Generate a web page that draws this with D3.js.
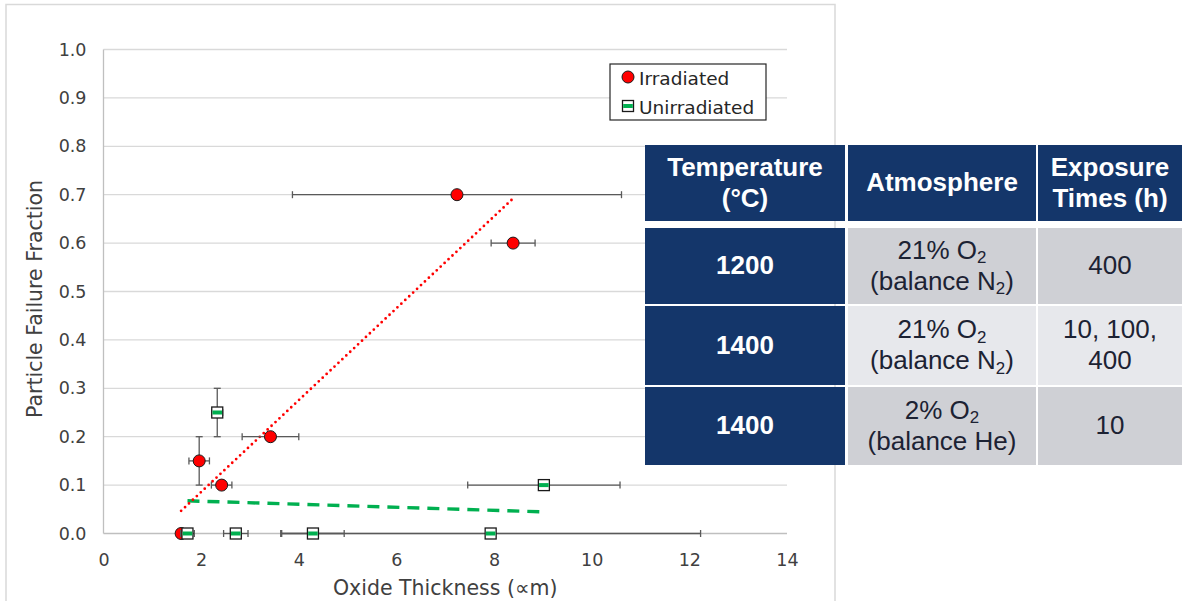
<!DOCTYPE html>
<html>
<head>
<meta charset="utf-8">
<script src="https://cdn.jsdelivr.net/npm/d3@7"></script>
<style>
  body { margin: 0; background: #fff; }
  svg { display: block; }
</style>
</head>
<body>
<svg id="chart" width="1184" height="601"></svg>
<script>
// irradiated particles
var irrX    = [1.59, 1.96, 2.42, 3.42, 7.24, 8.39];
var irrY    = [0.00, 0.15, 0.10, 0.20, 0.70, 0.60];
var irrXErr = [0.00, 0.21, 0.21, 0.58, 3.37, 0.45];
var irrYErr = [0.00, 0.05, 0.00, 0.00, 0.00, 0.00];

// unirradiated particles
var unX    = [1.72, 2.33, 2.71, 4.29, 7.93, 9.02];
var unY    = [0.00, 0.25, 0.00, 0.00, 0.00, 0.10];
var unXErr = [0.14, 0.11, 0.25, 0.64, 4.30, 1.56];
var unYErr = [0.00, 0.05, 0.00, 0.00, 0.00, 0.00];

var xTicks = [0, 2, 4, 6, 8, 10, 12, 14];
var yTicks = [0, 0.1, 0.2, 0.3, 0.4, 0.5, 0.6, 0.7, 0.8, 0.9, 1.0];

var seriesNames = ["Irradiated", "Unirradiated"];

// table
var tableHeaders = [["Temperature", "(°C)"], ["Atmosphere"], ["Exposure", "Times (h)"]];
var tempValues   = ["1200", "1400", "1400"];
var atmValues    = [["21% O{2}", "(balance N{2})"], ["21% O{2}", "(balance N{2})"], ["2% O{2}", "(balance He)"]];
var timeValues   = [["400"], ["10, 100,", "400"], ["10"]];

var chartFont = "'DejaVu Sans', sans-serif";
var tableFont = "'Liberation Sans', Arial, sans-serif";

const svg = d3.select('#chart');

// outer chart frame
svg.append('rect')
   .attr('x', 6).attr('y', 4.5)
   .attr('width', 829).attr('height', 620)
   .attr('fill', 'none')
   .attr('stroke', '#d9d9d9')
   .attr('stroke-width', 1.5);

const x = d3.scaleLinear().domain([0, 14]).range([103.5, 787]);
const y = d3.scaleLinear().domain([0, 1]).range([533.5, 49.5]);

// gridlines
svg.append('g').selectAll('line')
   .data(yTicks.slice(1))
   .join('line')
   .attr('x1', x(0)).attr('x2', x(14))
   .attr('y1', d => y(d)).attr('y2', d => y(d))
   .attr('stroke', '#d9d9d9')
   .attr('stroke-width', 1.3);

// axes lines
svg.append('line')
   .attr('x1', x(0)).attr('x2', x(0))
   .attr('y1', y(1)).attr('y2', y(0))
   .attr('stroke', '#bfbfbf').attr('stroke-width', 1.3);
svg.append('line')
   .attr('x1', x(0)).attr('x2', x(14))
   .attr('y1', y(0)).attr('y2', y(0))
   .attr('stroke', '#bfbfbf').attr('stroke-width', 1.3);

// tick labels through d3 axes
const yAxis = svg.append('g')
   .attr('transform', `translate(${x(0)},0)`)
   .call(d3.axisLeft(y).tickValues(yTicks).tickFormat(d3.format('.1f')).tickSize(0).tickPadding(17));
const xAxis = svg.append('g')
   .attr('transform', `translate(0,${y(0)})`)
   .call(d3.axisBottom(x).tickValues(xTicks).tickFormat(d3.format('d')).tickSize(0).tickPadding(20));
[xAxis, yAxis].forEach(function(a){
    a.select('.domain').remove();
    a.selectAll('text')
     .attr('font-family', chartFont)
     .attr('font-size', '17.5px')
     .attr('fill', '#404040');
});

// axis titles
svg.append('text')
   .attr('x', x(7)).attr('y', 595)
   .attr('text-anchor', 'middle')
   .attr('font-family', chartFont)
   .attr('font-size', '20.5px')
   .attr('fill', '#404040')
   .text('Oxide Thickness (∝m)');
svg.append('text')
   .attr('transform', 'translate(42,299) rotate(-90)')
   .attr('text-anchor', 'middle')
   .attr('font-family', chartFont)
   .attr('font-size', '20.5px')
   .attr('fill', '#404040')
   .text('Particle Failure Fraction');

// linear trendline from the series points
function trend(xs, ys)
{
    var n = xs.length;
    var mx = d3.mean(xs), my = d3.mean(ys);
    var sxy = 0, sxx = 0;
    for (var i = 0; i < n; i++)
    {
        sxy += (xs[i] - mx) * (ys[i] - my);
        sxx += (xs[i] - mx) * (xs[i] - mx);
    }
    var b = sxy / sxx, a = my - b * mx;
    var x0 = d3.min(xs), x1 = d3.max(xs);
    return [[x0, a + b * x0], [x1, a + b * x1]];
}

const line = d3.line().x(d => x(d[0])).y(d => y(d[1]));

svg.append('path')
   .attr('d', line(trend(unX, unY)))
   .attr('stroke', '#00b050')
   .attr('stroke-width', 3.4)
   .attr('stroke-dasharray', '12,8')
   .attr('fill', 'none');

svg.append('path')
   .attr('d', line(trend(irrX, irrY)))
   .attr('stroke', '#ff0000')
   .attr('stroke-width', 2.8)
   .attr('stroke-linecap', 'round')
   .attr('stroke-dasharray', '0,5.4')
   .attr('fill', 'none');

// error bars
function errorBars(xs, ys, xe, ye)
{
    const g = svg.append('g')
                 .attr('stroke', '#595959')
                 .attr('stroke-width', 1.3);
    for (var i = 0; i < xs.length; i++)
    {
        if (xe[i] > 0)
        {
            var xa = x(xs[i] - xe[i]), xb = x(xs[i] + xe[i]), yy = y(ys[i]);
            g.append('line').attr('x1', xa).attr('x2', xb).attr('y1', yy).attr('y2', yy);
            g.append('line').attr('x1', xa).attr('x2', xa).attr('y1', yy - 3.5).attr('y2', yy + 3.5);
            g.append('line').attr('x1', xb).attr('x2', xb).attr('y1', yy - 3.5).attr('y2', yy + 3.5);
        }
        if (ye[i] > 0)
        {
            var ya = y(ys[i] - ye[i]), yb = y(ys[i] + ye[i]), xx = x(xs[i]);
            g.append('line').attr('x1', xx).attr('x2', xx).attr('y1', ya).attr('y2', yb);
            g.append('line').attr('x1', xx - 3.5).attr('x2', xx + 3.5).attr('y1', ya).attr('y2', ya);
            g.append('line').attr('x1', xx - 3.5).attr('x2', xx + 3.5).attr('y1', yb).attr('y2', yb);
        }
    }
}

function circleMark(g, cx, cy)
{
    g.append('circle')
     .attr('cx', cx).attr('cy', cy).attr('r', 6)
     .attr('fill', '#ff0000')
     .attr('stroke', '#1a1a1a')
     .attr('stroke-width', 1);
}

function squareMark(g, cx, cy)
{
    g.append('rect')
     .attr('x', cx - 5.5).attr('y', cy - 5.5)
     .attr('width', 11).attr('height', 11)
     .attr('fill', '#fff')
     .attr('stroke', '#1a1a1a')
     .attr('stroke-width', 1.3);
    g.append('rect')
     .attr('x', cx - 4.8).attr('y', cy - 2)
     .attr('width', 9.6).attr('height', 4)
     .attr('fill', '#00b050');
}

errorBars(irrX, irrY, irrXErr, irrYErr);
const gIrr = svg.append('g');
irrX.forEach((d, i) => circleMark(gIrr, x(d), y(irrY[i])));

errorBars(unX, unY, unXErr, unYErr);
const gUn = svg.append('g');
unX.forEach((d, i) => squareMark(gUn, x(d), y(unY[i])));

// legend
const leg = svg.append('g');
leg.append('rect')
   .attr('x', 610).attr('y', 64)
   .attr('width', 156).attr('height', 56)
   .attr('fill', '#fff')
   .attr('stroke', '#262626')
   .attr('stroke-width', 1.2);
circleMark(leg, 628, 77);
squareMark(leg, 628, 106);
seriesNames.forEach(function(s, i){
    leg.append('text')
       .attr('x', 639).attr('y', 78 + i * 29)
       .attr('dominant-baseline', 'central')
       .attr('font-family', chartFont)
       .attr('font-size', '18.5px')
       .attr('fill', '#262626')
       .text(s);
});

// table
var colX = [645, 848, 1038];
var colW = [200, 188, 144];
var rowY = [145, 228, 306, 387];
var rowH = [76, 76, 79, 78];
var navy = '#14366a';
var cellFill = ['#cfd0d5', '#e7e8ec', '#cfd0d5'];

const tbl = svg.append('g');

function addLines(g, lines, cx, cy, size, weight, color, lh)
{
    var top = cy - (lines.length - 1) * lh / 2;
    lines.forEach(function(l, k){
        const t = g.append('text')
                   .attr('x', cx).attr('y', top + k * lh)
                   .attr('text-anchor', 'middle')
                   .attr('dominant-baseline', 'central')
                   .attr('font-family', tableFont)
                   .attr('font-size', size + 'px')
                   .attr('font-weight', weight)
                   .attr('fill', color);
        // text in braces becomes a subscript
        var shift = 0;
        l.split(/(\{[^}]*\})/).forEach(function(p){
            if (!p) return;
            if (p[0] == '{')
            {
                t.append('tspan').attr('font-size', (size * 0.65) + 'px')
                 .attr('dy', size * 0.3).text(p.slice(1, -1));
                shift = -size * 0.3;
            }
            else
            {
                t.append('tspan').attr('dy', shift).text(p);
                shift = 0;
            }
        });
    });
}

for (var c = 0; c < 3; c++)
{
    tbl.append('rect')
       .attr('x', colX[c]).attr('y', rowY[0])
       .attr('width', colW[c]).attr('height', rowH[0])
       .attr('fill', navy);
    addLines(tbl, tableHeaders[c], colX[c] + colW[c] / 2, rowY[0] + rowH[0] / 2 - 1, 26, 'bold', '#fff', 31);
}

for (var r = 0; r < 3; r++)
{
    var yy = rowY[r + 1], hh = rowH[r + 1], cy = yy + hh / 2;
    tbl.append('rect')
       .attr('x', colX[0]).attr('y', yy)
       .attr('width', colW[0]).attr('height', hh)
       .attr('fill', navy);
    tbl.append('rect')
       .attr('x', colX[1]).attr('y', yy)
       .attr('width', colW[1]).attr('height', hh)
       .attr('fill', cellFill[r]);
    tbl.append('rect')
       .attr('x', colX[2]).attr('y', yy)
       .attr('width', colW[2]).attr('height', hh)
       .attr('fill', cellFill[r]);
    addLines(tbl, [tempValues[r]], colX[0] + colW[0] / 2, cy - 1, 26, 'bold', '#fff', 31);
    addLines(tbl, atmValues[r], colX[1] + colW[1] / 2, cy - 1, 26, 'normal', '#1c2233', 31);
    addLines(tbl, timeValues[r], colX[2] + colW[2] / 2, cy - 1, 26, 'normal', '#1c2233', 31);
}
</script>
</body>
</html>
